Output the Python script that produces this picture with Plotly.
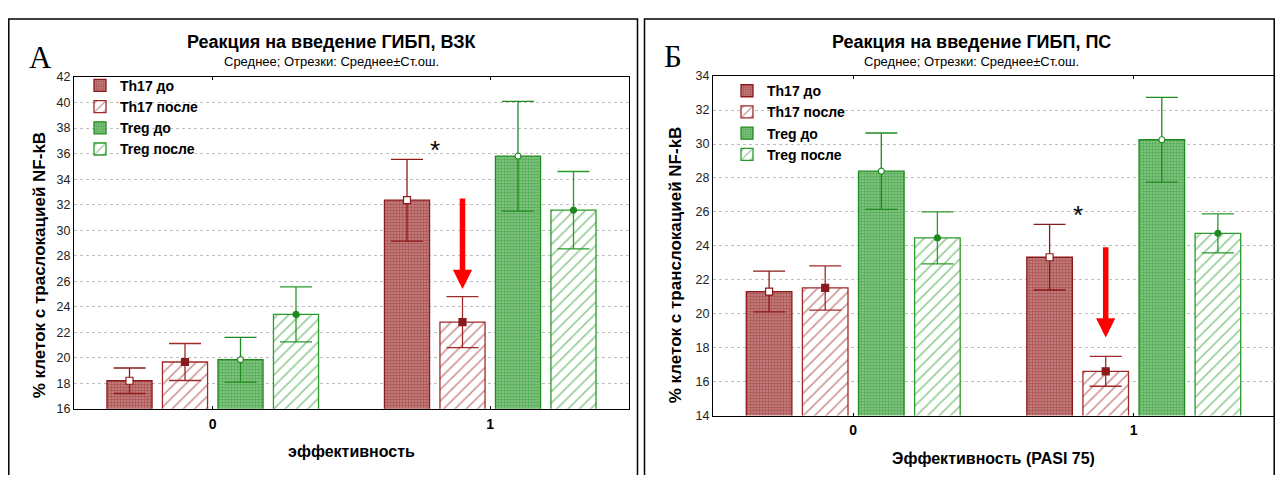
import plotly.graph_objects as go

# ---------------- data ----------------
categories = [0, 1]
category_labels = ["0", "1"]
series_names = ["Th17 до", "Th17 после", "Treg до", "Treg после"]

# Panel А: ВЗК (mean, standard error)
vzk_th17_before = [18.2, 32.35]
vzk_th17_before_se = [1.0, 3.2]
vzk_th17_after = [19.67, 22.8]
vzk_th17_after_se = [1.45, 2.0]
vzk_treg_before = [19.85, 35.8]
vzk_treg_before_se = [1.75, 4.3]
vzk_treg_after = [23.4, 31.57]
vzk_treg_after_se = [2.15, 3.03]

# Panel Б: ПС (mean, standard error)
ps_th17_before = [21.31, 23.33]
ps_th17_before_se = [1.2, 1.93]
ps_th17_after = [21.52, 16.61]
ps_th17_after_se = [1.3, 0.88]
ps_treg_before = [28.4, 30.25]
ps_treg_before_se = [2.25, 2.5]
ps_treg_after = [24.47, 24.74]
ps_treg_after_se = [1.53, 1.15]

# ---------------- styles ----------------
PAGE_MARGIN = 8          # default body margin of the html page
FW, FH = 1267, 467       # figure size so that the page is exactly 1283x483
FONT = "Arial, Liberation Sans, sans-serif"
RED = "#8B1A1A"
RED_H = "#9E2A2A"
GREEN = "#1F8A1F"
GREEN_H = "#2A9A2A"

offsets = [-0.3, -0.1, 0.1, 0.3]
bar_width = 0.1625

styles = [
    dict(edge=RED, pattern=dict(shape=".", fgcolor=RED, bgcolor="#C98A8A", size=3, solidity=0.55),
         sym="square", mfill="white", msize=7),
    dict(edge=RED_H, pattern=dict(shape="/", fgcolor=RED_H, bgcolor="white", size=8, solidity=0.2),
         sym="square", mfill=RED, msize=7),
    dict(edge=GREEN, pattern=dict(shape=".", fgcolor=GREEN, bgcolor="#8CCB8C", size=3, solidity=0.55),
         sym="circle", mfill="white", msize=6),
    dict(edge=GREEN_H, pattern=dict(shape="/", fgcolor=GREEN_H, bgcolor="white", size=8, solidity=0.2),
         sym="circle", mfill=GREEN, msize=6),
]

panels = [
    dict(xa="x", ya="y", legend="legend",
         means=[vzk_th17_before, vzk_th17_after, vzk_treg_before, vzk_treg_after],
         ses=[vzk_th17_before_se, vzk_th17_after_se, vzk_treg_before_se, vzk_treg_after_se]),
    dict(xa="x2", ya="y2", legend="legend2",
         means=[ps_th17_before, ps_th17_after, ps_treg_before, ps_treg_after],
         ses=[ps_th17_before_se, ps_th17_after_se, ps_treg_before_se, ps_treg_after_se]),
]

fig = go.Figure()

for p in panels:
    for i, name in enumerate(series_names):
        st = styles[i]
        xs = [c + offsets[i] for c in categories]
        fig.add_trace(go.Bar(
            x=xs, y=p["means"][i], width=bar_width, name=name,
            xaxis=p["xa"], yaxis=p["ya"], legend=p["legend"],
            marker=dict(color="white", pattern=st["pattern"],
                        line=dict(color=st["edge"], width=1.3)),
            hoverinfo="skip",
        ))
    for i, name in enumerate(series_names):
        st = styles[i]
        xs = [c + offsets[i] for c in categories]
        col = RED if i < 2 else GREEN
        fig.add_trace(go.Scatter(
            x=xs, y=p["means"][i], mode="markers", showlegend=False,
            xaxis=p["xa"], yaxis=p["ya"],
            marker=dict(symbol=st["sym"], size=st["msize"], color=st["mfill"],
                        line=dict(color=col, width=1.2)),
            error_y=dict(type="data", array=p["ses"][i], visible=True,
                         color=st["edge"], thickness=1.3, width=16),
            hoverinfo="skip",
        ))

def px_x(v):
    """page pixel x -> paper coordinate"""
    return (v - PAGE_MARGIN) / FW

def px_y(v):
    """page pixel y -> paper coordinate"""
    return 1 - (v - PAGE_MARGIN) / FH

axis_common = dict(showline=True, linecolor="black", linewidth=1, mirror="ticks",
                   zeroline=False)
xtitle_font = dict(size=16, weight="bold")

fig.update_layout(
    width=FW, height=FH, autosize=False,
    margin=dict(l=0, r=0, t=0, b=0),
    paper_bgcolor="white", plot_bgcolor="white",
    font=dict(family=FONT, color="black"),
    barmode="overlay",
    xaxis=dict(domain=[px_x(74), px_x(629)], range=[-0.5, 1.5], anchor="y",
               tickvals=categories, ticktext=category_labels,
               ticks="inside", ticklen=3, tickcolor="black", showgrid=False,
               tickfont=dict(size=14, weight="bold"), ticklabelstandoff=2,
               title=dict(text="эффективность", font=xtitle_font, standoff=15),
               **axis_common),
    yaxis=dict(domain=[px_y(414), px_y(72)], range=[16, 42], dtick=2, anchor="x",
               showgrid=True, gridcolor="#BDBDBD", griddash="dot", gridwidth=1,
               ticks="", tickfont=dict(size=12.5, color="#222"),
               **axis_common),
    xaxis2=dict(domain=[px_x(713), px_x(1274)], range=[-0.5, 1.5], anchor="y2",
                tickvals=categories, ticktext=category_labels,
                ticks="inside", ticklen=3, tickcolor="black", showgrid=False,
                tickfont=dict(size=14, weight="bold"), ticklabelstandoff=2,
                title=dict(text="Эффективность (PASI 75)", font=xtitle_font, standoff=15),
                **axis_common),
    yaxis2=dict(domain=[px_y(421), px_y(71)], range=[14, 34], dtick=2, anchor="x2",
                showgrid=True, gridcolor="#BDBDBD", griddash="dot", gridwidth=1,
                ticks="", tickfont=dict(size=12.5, color="#222"),
                **axis_common),
    legend=dict(x=px_x(80), y=px_y(64.5), xanchor="left", yanchor="top",
                bgcolor="rgba(0,0,0,0)", tracegroupgap=0,
                font=dict(size=14, weight="bold", color="black")),
    legend2=dict(x=px_x(727), y=px_y(70), xanchor="left", yanchor="top",
                 bgcolor="rgba(0,0,0,0)", tracegroupgap=0,
                 font=dict(size=14, weight="bold", color="black")),
)

# frames around the two panels (open at the bottom edge)
fig.add_shape(type="rect", xref="paper", yref="paper",
              x0=px_x(8.8), x1=px_x(637.5), y0=-0.05, y1=px_y(12),
              line=dict(color="black", width=1.5), layer="below")
fig.add_shape(type="rect", xref="paper", yref="paper",
              x0=px_x(644.5), x1=px_x(1274.2), y0=-0.05, y1=px_y(12),
              line=dict(color="black", width=1.5), layer="below")

ann = []
# titles and subtitles
for cx, title in [(331, "Реакция на введение ГИБП, ВЗК"), (971, "Реакция на введение ГИБП, ПС")]:
    ann.append(dict(x=px_x(cx), y=px_y(35.5), xref="paper", yref="paper", text=title,
                    showarrow=False, font=dict(size=18, weight="bold"), xanchor="center", yanchor="middle"))
    ann.append(dict(x=px_x(cx), y=px_y(56), xref="paper", yref="paper", text="Среднее; Отрезки: Среднее±Ст.ош.",
                    showarrow=False, font=dict(size=13), xanchor="center", yanchor="middle"))
# y-axis titles
for cx, cy, t in [(39, 266, "% клеток с траслокацией NF-kB"), (675, 266, "% клеток с транслокацией NF-kB")]:
    ann.append(dict(x=px_x(cx), y=px_y(cy), xref="paper", yref="paper", text=t, textangle=-90,
                    showarrow=False, font=dict(size=17, weight="bold"), xanchor="center", yanchor="middle"))
# panel letters
for lx, ly, letter in [(40, 52, "А"), (673, 51, "Б")]:
    ann.append(dict(x=px_x(lx), y=px_y(ly), xref="paper", yref="paper", text=letter,
                    showarrow=False, font=dict(size=31, family="Liberation Serif, Times New Roman, serif"),
                    xanchor="center", yanchor="middle"))
# significance asterisks
ann.append(dict(x=0.8, y=36.3, xref="x", yref="y", text="*", showarrow=False,
                font=dict(size=26), yanchor="middle"))
ann.append(dict(x=0.8, y=25.8, xref="x2", yref="y2", text="*", showarrow=False,
                font=dict(size=26), yanchor="middle"))
# red arrows (decrease of Th17 after therapy)
ann.append(dict(x=0.9, y=25.4, ax=0.9, ay=32.6, xref="x", yref="y", axref="x", ayref="y",
                text="", showarrow=True, arrowhead=2, arrowsize=0.7, arrowwidth=5.5,
                arrowcolor="#FF0000", standoff=0))
ann.append(dict(x=0.9, y=18.6, ax=0.9, ay=24.0, xref="x2", yref="y2", axref="x2", ayref="y2",
                text="", showarrow=True, arrowhead=2, arrowsize=0.7, arrowwidth=5.5,
                arrowcolor="#FF0000", standoff=0))
fig.update_layout(annotations=ann)

fig.write_html("out.html", config={"displayModeBar": False})
